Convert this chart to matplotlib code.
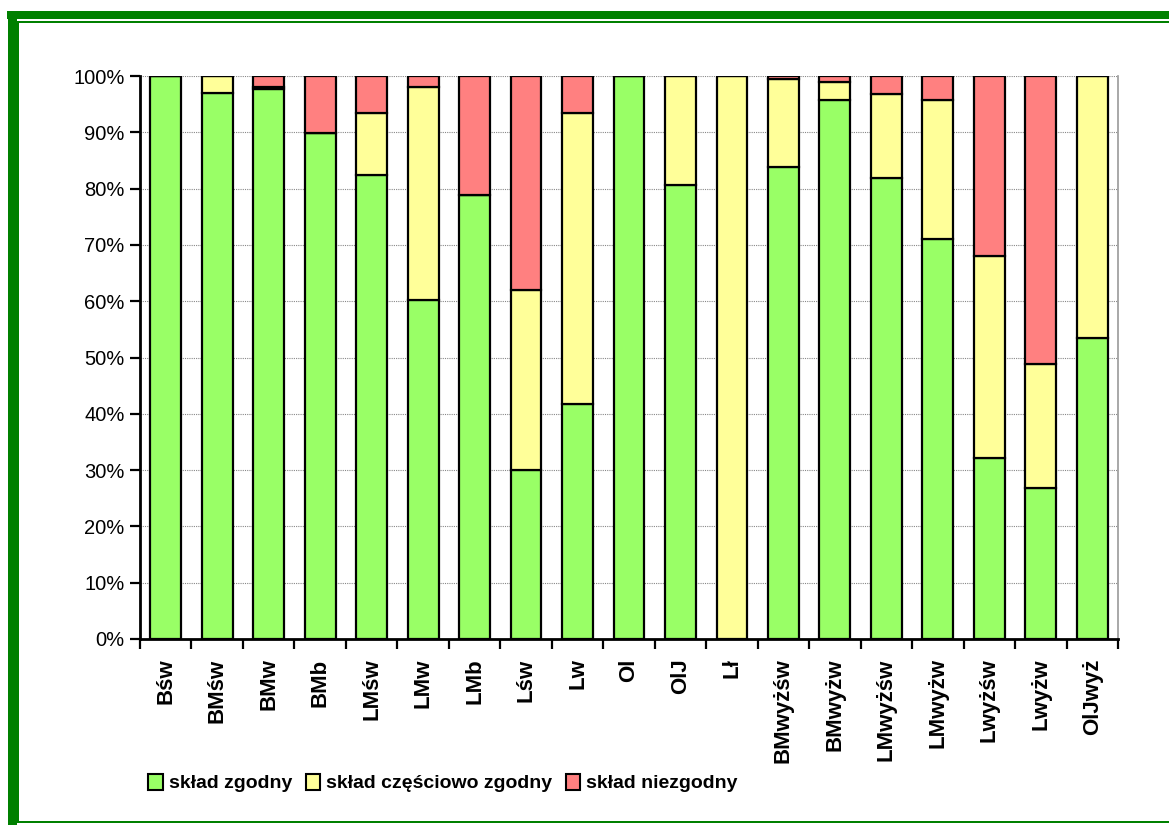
import numpy as np
import matplotlib.pyplot as plt
from matplotlib.lines import Line2D
from matplotlib.patches import Patch

plt.rcParams['font.family'] = ['Liberation Sans', 'DejaVu Sans']

labels = ['Bśw', 'BMśw', 'BMw', 'BMb', 'LMśw', 'LMw', 'LMb', 'Lśw', 'Lw', 'Ol',
          'OlJ', 'Lł', 'BMwyżśw', 'BMwyżw', 'LMwyżśw', 'LMwyżw', 'Lwyżśw',
          'Lwyżw', 'OlJwyż']
zgodny = [100, 97.0, 97.7, 89.9, 82.4, 60.2, 78.8, 30.0, 41.7, 100,
          80.6, 0, 83.8, 95.7, 81.8, 71.0, 32.1, 26.8, 53.4]
czesciowo = [0, 3.0, 0.4, 0, 11.1, 37.9, 0, 32.0, 51.8, 0,
             19.4, 100, 15.7, 3.15, 15.0, 24.7, 36.0, 22.0, 46.6]
niezgodny = [0, 0, 1.9, 10.1, 6.5, 1.9, 21.2, 38.0, 6.5, 0,
             0, 0, 0.5, 1.15, 3.2, 4.3, 31.9, 51.2, 0]
series_names = ['skład zgodny', 'skład częściowo zgodny', 'skład niezgodny']
colors = ['#99FF66', '#FFFF99', '#FF8080']

W, H = 1169, 825
fig = plt.figure(figsize=(W / 100, H / 100), dpi=100)
ax = fig.add_axes([140 / W, (H - 639) / H, (1118 - 140) / W, (639 - 76) / H])

x = np.arange(len(labels))
bottom = np.zeros(len(labels))
for vals, c in zip([zgodny, czesciowo, niezgodny], colors):
    vals = np.array(vals)
    ax.bar(x, vals, 0.6, bottom=bottom, color=c, edgecolor='black', linewidth=1.6, zorder=3)
    bottom += vals

ax.set_xlim(-0.5, len(labels) - 0.5)
ax.set_ylim(0, 100)
ax.set_yticks(np.arange(0, 101, 10))
ax.set_yticklabels([f'{v}%' for v in range(0, 101, 10)], fontsize=14.5)
ax.yaxis.grid(True, color='#888888', linestyle=(0, (1, 1)), linewidth=0.8, zorder=0)

ax.set_xticks(x)
ax.set_xticklabels(labels, rotation=90, fontsize=16, fontweight='bold')
ax.set_xticks(np.arange(-0.5, len(labels)), minor=True)
ax.tick_params(axis='x', which='major', length=0, pad=14)
ax.tick_params(axis='x', which='minor', length=7, width=1.6, direction='out')
ax.tick_params(axis='y', length=7, width=1.6, direction='out', pad=4)

for s in ['left', 'bottom']:
    ax.spines[s].set_linewidth(2)
ax.spines['top'].set_visible(False)
ax.spines['right'].set_color('#999999')
ax.spines['right'].set_linewidth(1.2)

handles = [Patch(facecolor=c, edgecolor='black', linewidth=1.5) for c in colors]
fig.legend(handles, series_names, loc='center', bbox_to_anchor=(443 / W, 1 - 783 / H),
           ncol=3, frameon=False, handlelength=0.75, handleheight=0.9,
           handletextpad=0.3, columnspacing=0.7, prop={'size': 14, 'weight': 'bold'})

# green frame (cropped on the right)
green = '#008000'
fig.add_artist(Line2D([7 / W, 1.0], [1 - 15 / H, 1 - 15 / H], color=green, linewidth=8 * 0.72,
                      transform=fig.transFigure, solid_capstyle='butt'))
fig.add_artist(Line2D([11.5 / W, 11.5 / W], [1 - 11 / H, 0.0], color=green, linewidth=9 * 0.72,
                      transform=fig.transFigure, solid_capstyle='butt'))
fig.add_artist(Line2D([18 / W, 1.0], [1 - 21.5 / H, 1 - 21.5 / H], color=green, linewidth=2 * 0.72,
                      transform=fig.transFigure, solid_capstyle='butt'))
fig.add_artist(Line2D([18 / W, 18 / W], [1 - 20.5 / H, 1 - 823 / H], color=green, linewidth=2 * 0.72,
                      transform=fig.transFigure, solid_capstyle='butt'))
fig.add_artist(Line2D([17 / W, 1.0], [1 - 822 / H, 1 - 822 / H], color=green, linewidth=2 * 0.72,
                      transform=fig.transFigure, solid_capstyle='butt'))

fig.savefig('out.png', dpi=100)
